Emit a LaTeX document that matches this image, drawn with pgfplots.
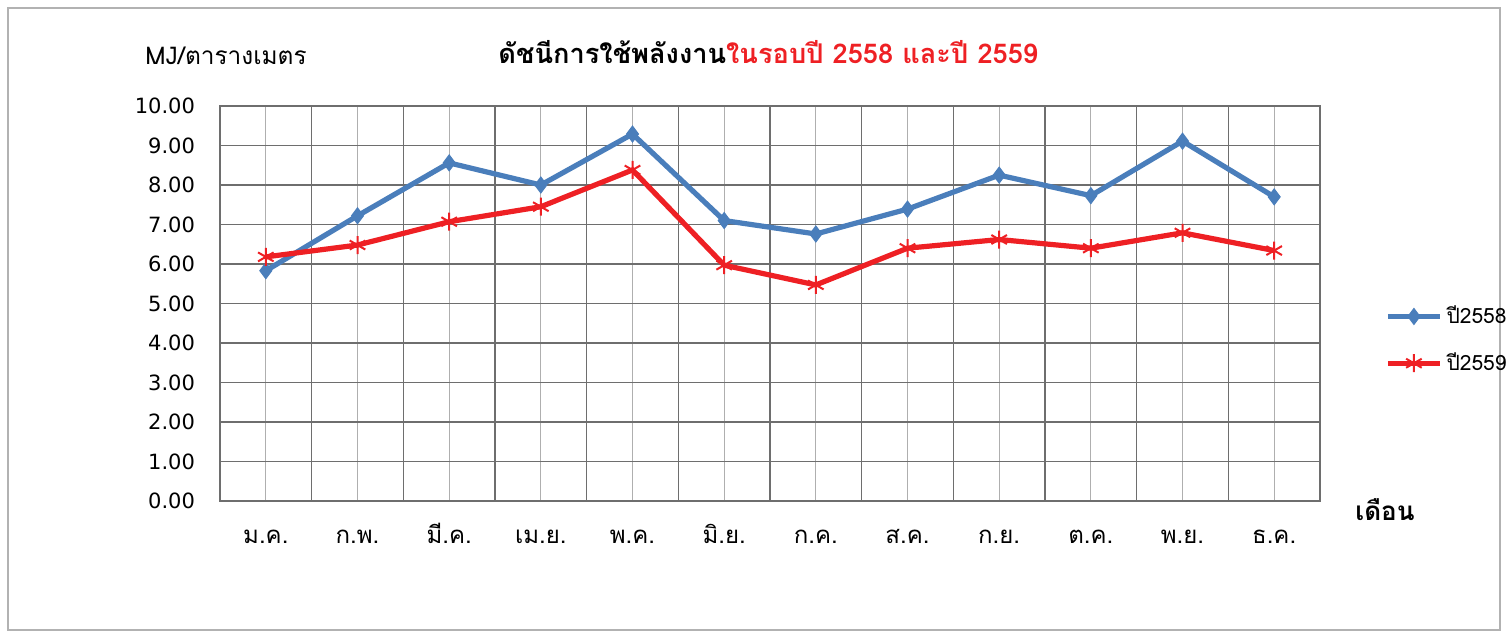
\documentclass[border=0pt]{standalone}
\usepackage{fontspec}
\setmainfont{DejaVu Sans}
\newfontfamily\thai[Script=Thai]{Loma}
\usepackage{pgfplots}
\pgfplotsset{compat=1.18}
\definecolor{bl}{RGB}{74,126,187}
\definecolor{rd}{RGB}{238,32,36}
\definecolor{gridd}{RGB}{110,110,110}
\definecolor{gridl}{RGB}{175,175,175}
\begin{document}
\begin{tikzpicture}
\useasboundingbox (-110pt,-68pt) rectangle (644pt,250.5pt);
\draw[gray!60, line width=0.6pt] (-106pt,-64.5pt) rectangle (640pt,246.5pt);
\begin{axis}[at={(0,0)}, anchor=south west, scale only axis,
  width=550pt, height=197.5pt,
  xmin=-0.5, xmax=11.5, ymin=0, ymax=10,
  xtick={0,1,2,3,4,5,6,7,8,9,10,11},
  xticklabels={ม.ค.,ก.พ.,มี.ค.,เม.ย.,พ.ค.,มิ.ย.,ก.ค.,ส.ค.,ก.ย.,ต.ค.,พ.ย.,ธ.ค.},
  minor xtick={-0.5,0.5,1.5,2.5,3.5,4.5,5.5,6.5,7.5,8.5,9.5,10.5,11.5},
  ytick={0,1,2,3,4,5,6,7,8,9,10},
  major tick length=0pt, minor tick length=0pt,
  xmajorgrids, xminorgrids, ymajorgrids,
  major x grid style={gridl, line width=0.6pt},
  minor x grid style={gridd, line width=0.6pt},
  major y grid style={gridd, line width=0.6pt},
  axis line style={gridd, line width=0.7pt},
  /pgf/number format/assume math mode=true,
  yticklabel={\pgfmathprintnumber[fixed,fixed zerofill,precision=2]{\tick}},
  yticklabel style={font=\fontsize{10.5}{13}\selectfont, xshift=-9pt},
  xticklabel style={font=\thai\fontsize{12}{14}\selectfont, anchor=base, text height=9pt, yshift=-21pt},
  clip=false,
  legend style={at={(1.059,0.408)}, anchor=west, draw=none, fill=none,
    font=\thai\fontsize{10.5}{12}\selectfont, row sep=9pt, inner sep=0pt,
    cells={anchor=west}},
  legend image code/.code={
    \draw[#1, mark=none] (0pt,0pt) -- (26pt,0pt);
    \draw[#1, only marks] plot coordinates {(13pt,0pt)};
  },
]
\addplot[bl, line width=2.6pt, mark=diamond*, mark size=4pt,
  mark options={fill=bl, line width=0.5pt, solid}] coordinates {
  (0,5.83) (1,7.22) (2,8.56) (3,8.00) (4,9.29) (5,7.10)
  (6,6.76) (7,7.39) (8,8.25) (9,7.73) (10,9.11) (11,7.70)};
\addlegendentry{ปี2558}
\addplot[rd, line width=2.6pt, mark=asterisk, mark size=4.5pt,
  mark options={line width=1pt, solid}] coordinates {
  (0,6.18) (1,6.48) (2,7.07) (3,7.45) (4,8.38) (5,5.97)
  (6,5.47) (7,6.40) (8,6.62) (9,6.40) (10,6.79) (11,6.34)};
\addlegendentry{ปี2559}
\end{axis}
\node[anchor=west, inner sep=0pt] at (-37.5pt,222.5pt) {\thai\fontsize{12.2}{14}\selectfont MJ/ตารางเมตร};
\node[anchor=west, inner sep=0pt] at (139pt,224.5pt) {\thai\bfseries\fontsize{13.6}{16}\selectfont ดัชนีการใช้พลังงาน\textcolor{rd}{ในรอบปี 2558 และปี 2559}};
\node[anchor=west, inner sep=0pt] at (567.5pt,-4.5pt) {\thai\bfseries\fontsize{13}{15}\selectfont เดือน};
\end{tikzpicture}
\end{document}
